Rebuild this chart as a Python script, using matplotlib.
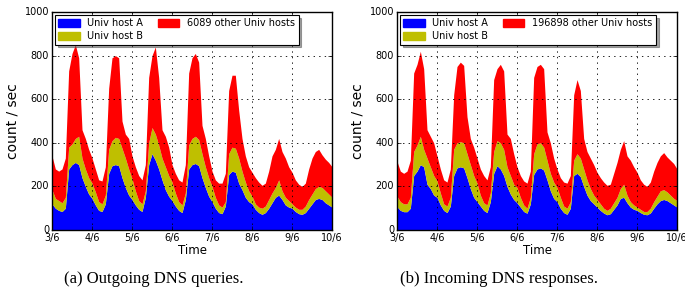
import numpy as np
import matplotlib
matplotlib.use("Agg")
import matplotlib.pyplot as plt

# two-hourly samples from 3/6 00:00 to 10/6 00:00 (stack tops, count/sec)
day_labels = ["3/6", "4/6", "5/6", "6/6", "7/6", "8/6", "9/6", "10/6"]
hours = np.arange(85) * 2

# (a) outgoing queries
q_a_top = [120, 100, 90, 85, 100, 280, 300, 310, 300, 240, 200, 165,
           145, 115, 90, 85, 120, 260, 295, 300, 295, 240, 195, 160,
           140, 115, 95, 85, 150, 300, 350, 320, 280, 230, 185, 155,
           135, 110, 90, 80, 140, 280, 300, 305, 295, 240, 195, 155,
           130, 100, 80, 75, 110, 255, 270, 265, 215, 185, 150, 130,
           120, 95, 80, 72, 80, 100, 125, 150, 160, 140, 115, 105,
           100, 85, 75, 72, 80, 100, 120, 140, 145, 140, 125, 115,
           105]
q_b_top = [185, 145, 135, 125, 150, 380, 395, 420, 430, 330, 280, 240,
           215, 175, 130, 120, 160, 370, 410, 425, 420, 375, 330, 280,
           235, 180, 135, 120, 180, 400, 470, 440, 390, 330, 290, 250,
           220, 170, 130, 115, 170, 390, 420, 430, 415, 350, 290, 240,
           200, 150, 115, 105, 130, 350, 380, 375, 330, 270, 220, 180,
           155, 120, 105, 100, 110, 140, 170, 195, 230, 180, 150, 135,
           120, 105, 95, 95, 110, 140, 165, 190, 200, 195, 180, 165,
           150]
q_all_top = [340, 280, 270, 280, 330, 730, 810, 850, 790, 460, 420, 370,
             330, 280, 230, 225, 290, 650, 790, 800, 790, 500, 440, 420,
             340, 290, 250, 230, 300, 700, 800, 840, 700, 460, 430, 380,
             300, 260, 230, 220, 300, 720, 790, 810, 770, 480, 420, 340,
             270, 230, 215, 215, 260, 640, 710, 710, 550, 420, 340, 290,
             265, 240, 220, 205, 215, 270, 340, 370, 420, 360, 330, 290,
             265, 230, 210, 200, 215, 280, 330, 360, 370, 345, 325, 310,
             290]

# (b) incoming responses
r_a_top = [107, 90, 84, 84, 100, 250, 270, 300, 290, 210, 190, 160,
           150, 115, 90, 80, 110, 250, 285, 290, 285, 240, 190, 150,
           130, 110, 90, 80, 130, 260, 295, 280, 250, 200, 165, 140,
           125, 105, 85, 77, 120, 255, 280, 285, 275, 230, 180, 145,
           130, 100, 80, 72, 100, 250, 260, 245, 200, 160, 135, 120,
           105, 90, 78, 70, 75, 95, 115, 145, 150, 125, 105, 95,
           90, 80, 72, 70, 78, 100, 120, 135, 140, 135, 125, 115,
           105]
r_b_top = [155, 130, 120, 120, 150, 360, 390, 430, 370, 330, 290, 250,
           225, 170, 120, 110, 150, 370, 400, 405, 400, 350, 300, 250,
           215, 160, 125, 115, 170, 360, 410, 400, 370, 290, 250, 210,
           195, 150, 115, 100, 150, 350, 395, 400, 380, 320, 260, 220,
           195, 150, 110, 100, 130, 320, 350, 330, 280, 230, 190, 160,
           140, 120, 100, 90, 100, 125, 150, 190, 210, 160, 130, 115,
           105, 95, 85, 85, 100, 130, 155, 180, 185, 175, 160, 145,
           135]
r_all_top = [315, 270, 260, 270, 320, 720, 760, 820, 740, 460, 430, 400,
             340, 280, 230, 220, 280, 620, 750, 770, 755, 520, 420, 380,
             330, 280, 250, 230, 290, 690, 740, 760, 730, 440, 420, 350,
             290, 250, 225, 215, 270, 700, 750, 760, 740, 450, 400, 330,
             280, 240, 220, 215, 250, 620, 690, 640, 420, 360, 330, 300,
             265, 240, 220, 205, 210, 260, 310, 370, 410, 340, 320, 290,
             265, 230, 210, 200, 220, 270, 310, 340, 355, 335, 320, 305,
             280]

panels = [(q_a_top, q_b_top, q_all_top, "6089 other Univ hosts",
           "(a) Outgoing DNS queries."),
          (r_a_top, r_b_top, r_all_top, "196898 other Univ hosts",
           "(b) Incoming DNS responses.")]

plt.style.use("classic")
fig = plt.figure(figsize=(6.85, 2.99), dpi=100, facecolor="white")
lefts = [52 / 685, 397 / 685]
caption_x = [154 / 685, 499 / 685]

for i in range(2):
    a, b, tot, other_lbl, caption = panels[i]
    ax = fig.add_axes([lefts[i], 69 / 299, 280 / 685, 218 / 299])
    t = hours / 24.0
    ax.fill_between(t, 0, a, color="#0000ff", lw=0)
    ax.fill_between(t, a, b, color="#bfbf00", lw=0)
    ax.fill_between(t, b, tot, color="#ff0000", lw=0)
    ax.set_xlim(0, 7)
    ax.set_ylim(0, 1000)
    ax.set_xticks(range(8))
    ax.set_xticklabels(day_labels)
    ax.set_yticks(range(0, 1001, 200))
    ax.tick_params(labelsize=7, length=3, pad=2)
    ax.grid(True, color="k", linestyle=":", linewidth=0.6)
    ax.set_xlabel("Time", fontsize=8.5, labelpad=1)
    ax.set_ylabel("count / sec", fontsize=10, labelpad=4)

    handles = [plt.Rectangle((0, 0), 1, 1, color="#0000ff"),
               plt.Rectangle((0, 0), 1, 1, color="#bfbf00"),
               plt.Rectangle((0, 0), 1, 1, color="#ff0000")]
    labels = ["Univ host A", "Univ host B", other_lbl]
    leg = ax.legend(handles, labels, loc="upper left", ncol=2, fontsize=7,
                    shadow=True, handlelength=2.2, handleheight=0.9,
                    columnspacing=1.5, labelspacing=0.3, borderpad=0.35,
                    handletextpad=0.8, borderaxespad=0.3)
    leg.get_frame().set_linewidth(0.8)

    fig.text(caption_x[i], 20 / 299, caption,
             ha="center", va="center", fontsize=12, family="Liberation Serif")

fig.savefig("out.png", dpi=100, facecolor="white")
